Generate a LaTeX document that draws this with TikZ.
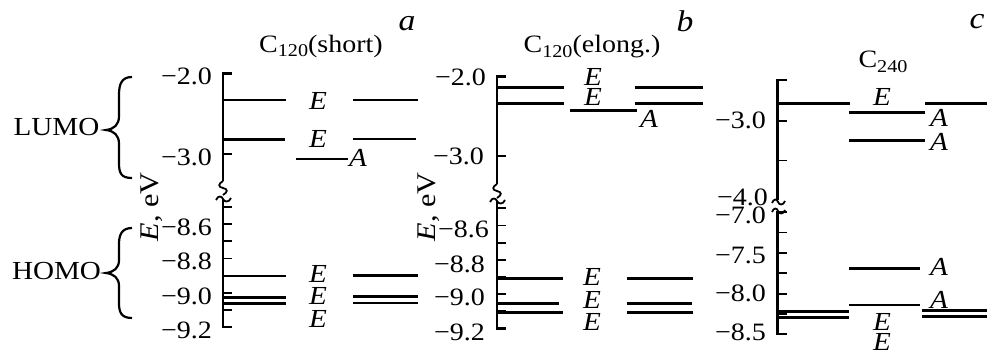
\documentclass[tikz,border=0pt]{standalone}
\usepackage{fontspec}
\setmainfont{Liberation Serif}[FakeStretch=1.12]
\begin{document}
\begin{tikzpicture}[x=1pt,y=-1pt,line join=miter,
  lvl/.style={line width=2.8pt},
  axisline/.style={line width=2.8pt},
  tickline/.style={line width=1.8pt},
  wave/.style={line width=1.8pt},
  bracestyle/.style={line width=2.2pt},
  txt/.style={inner sep=0pt, font=\fontsize{25}{25}\selectfont},
  bigtxt/.style={inner sep=0pt, font=\fontsize{26}{26}\selectfont},
  sym/.style={inner sep=0pt, text height=17pt, text depth=0pt, font=\fontsize{26}{26}\selectfont\itshape},
  panel/.style={inner sep=0pt, font=\fontsize{30}{30}\selectfont\itshape},
  ticklab/.style={inner sep=0pt, anchor=east, text height=16pt, text depth=0pt, font=\fontsize{25}{25}\selectfont},
  ylab/.style={inner sep=0pt, rotate=90, font=\fontsize{27}{27}\selectfont},
]
\useasboundingbox (0,0) rectangle (987,356);

% ---------- left labels ----------
\node[bigtxt] (lumo) at (56.5,127) {LUMO};
\node[bigtxt] (homo) at (56.5,271) {HOMO};
\draw[bracestyle] (132,77) .. controls (121,77) and (119,85) .. (119,95) -- (119,116)
  .. controls (119,125) and (114,129) .. (106,130) .. controls (114,131) and (119,135) .. (119,144)
  -- (119,163) .. controls (119,173) and (121,178) .. (132,178);
\draw[bracestyle] (132,228) .. controls (121,228) and (119,236) .. (119,244) -- (119,260)
  .. controls (119,268) and (114,272) .. (106,273) .. controls (114,274) and (119,278) .. (119,286)
  -- (119,303) .. controls (119,312) and (121,318) .. (132,318);

% ---------- panel a ----------
\node[txt] (ta) at (321,46) {C\raisebox{-0.4ex}{\fontsize{18}{18}\selectfont 120}(short)};
\node[panel] (pa) at (407,24) {a};
\node[ylab] (ya) at (152,207) {\textit{E}, eV};
\draw[axisline] (232,73.3) -- (223,73.3) -- (223,181);
\draw[tickline] (223,154.3) -- (232,154.3);
\draw[wave] (223,181) .. controls (218,184) and (218,187) .. (223,188) .. controls (228,189) and (228,192) .. (223,195);
\draw[wave] (216,200) .. controls (218,195) and (222,196) .. (223,199) .. controls (224,202) and (229,203) .. (231,198);
\draw[axisline] (223,199) -- (223,327) -- (232,327);
\foreach \yy in {207,224.1,241.3,258.4,275.6,292.7,309.9}
  \draw[tickline] (223,\yy) -- (232,\yy);
\node[ticklab] (a1) at (212,76) {−2.0};
\node[ticklab] (a2) at (212,157) {−3.0};
\node[ticklab] (a3) at (212,227) {−8.6};
\node[ticklab] (a4) at (212,261) {−8.8};
\node[ticklab] (a5) at (212,296) {−9.0};
\node[ticklab] (a6) at (212,330) {−9.2};
\draw[lvl] (223,100) -- (286,100);   \draw[lvl] (353,100) -- (418,100);
\draw[lvl] (223,139.3) -- (285,139.3); \draw[lvl] (353,139) -- (416,139);
\draw[lvl] (296,159) -- (348,159);
\draw[lvl] (223,276) -- (286,276);   \draw[lvl] (353,275.5) -- (418,275.5);
\draw[lvl] (223,297.3) -- (286,297.3); \draw[lvl] (353,296.7) -- (418,296.7);
\draw[lvl] (223,303.6) -- (286,303.6); \draw[lvl] (353,303) -- (418,303);
\node[sym] (ea1) at (318,101) {E};
\node[sym] (ea2) at (318,139) {E};
\node[sym] (aa1) at (358,157.5) {A};
\node[sym] (ea3) at (318,273.5) {E};
\node[sym] (ea4) at (318,296) {E};
\node[sym] (ea5) at (318,318.5) {E};

% ---------- panel b ----------
\node[txt] (tb) at (592,47) {C\raisebox{-0.4ex}{\fontsize{18}{18}\selectfont 120}(elong.)};
\node[panel] (pb) at (685,21) {b};
\node[ylab] (yb) at (429,207) {\textit{E}, eV};
\draw[axisline] (506,76.7) -- (497,76.7) -- (497,184);
\draw[tickline] (497,156) -- (506,156);
\draw[wave] (497,184) .. controls (492,187) and (492,190) .. (497,191) .. controls (502,192) and (502,195) .. (497,198);
\draw[wave] (490,202) .. controls (492,197) and (496,198) .. (497,201) .. controls (498,204) and (503,205) .. (505,200);
\draw[axisline] (497,201) -- (497,328.3) -- (506,328.3);
\foreach \yy in {208.3,225.4,242.6,259.7,276.9,294,311.2}
  \draw[tickline] (497,\yy) -- (506,\yy);
\node[ticklab] (b1) at (486,77) {−2.0};
\node[ticklab] (b2) at (484,156) {−3.0};
\node[ticklab] (b3) at (489,229) {−8.6};
\node[ticklab] (b4) at (485,264) {−8.8};
\node[ticklab] (b5) at (485,297) {−9.0};
\node[ticklab] (b6) at (485,332) {−9.2};
\draw[lvl] (497,87.3) -- (564,87.3);   \draw[lvl] (635,87.3) -- (703,87.3);
\draw[lvl] (497,103.3) -- (564,103.3); \draw[lvl] (635,103.3) -- (703,103.3);
\draw[lvl] (570,110.7) -- (637,110.7);
\draw[lvl] (497,278.3) -- (563,278.3); \draw[lvl] (627,278.3) -- (693,278.3);
\draw[lvl] (497,303.3) -- (559,303.3); \draw[lvl] (627,303.3) -- (692,303.3);
\draw[lvl] (497,312.5) -- (563,312.5); \draw[lvl] (627,312.5) -- (693,312.5);
\node[sym] (eb1) at (593,77) {E};
\node[sym] (eb2) at (593,97) {E};
\node[sym] (ab1) at (649,118.5) {A};
\node[sym] (eb3) at (592,277) {E};
\node[sym] (eb4) at (592,300) {E};
\node[sym] (eb5) at (592,321.5) {E};

% ---------- panel c ----------
\node[txt] (tc) at (883,62) {C\raisebox{-0.4ex}{\fontsize{18}{18}\selectfont 240}};
\node[panel] (pc) at (977,22) {c};
\draw[axisline] (786.5,80) -- (777.5,80) -- (777.5,200);
\draw[tickline] (777.5,120.7) -- (786.5,120.7);
\draw[tickline] (777.5,160.5) -- (786.5,160.5);
\draw[wave] (772,203) .. controls (774,198) and (777,199) .. (778,202) .. controls (779,205) and (783,206) .. (785,201);
\draw[wave] (772,212) .. controls (774,207) and (777,208) .. (778,211) .. controls (779,214) and (783,215) .. (785,210);
\draw[axisline] (786.5,212) -- (777.5,212) -- (777.5,334) -- (786.5,334);
\foreach \yy in {232.4,252.8,273.2,293.6,314}
  \draw[tickline] (777.5,\yy) -- (786.5,\yy);
\node[ticklab] (c1) at (766,120) {−3.0};
\node[ticklab] (c2) at (768,197) {−4.0};
\node[ticklab] (c3) at (766,215) {−7.0};
\node[ticklab] (c4) at (766,255) {−7.5};
\node[ticklab] (c5) at (766,293) {−8.0};
\node[ticklab] (c6) at (766,332) {−8.5};
\draw[lvl] (777.5,103.3) -- (850,103.3); \draw[lvl] (925,103.3) -- (987,103.3);
\draw[lvl] (849,112.7) -- (925,112.7);
\draw[lvl] (849,140.7) -- (925,140.7);
\draw[lvl] (849,268.3) -- (920,268.3);
\draw[lvl] (849,305) -- (920,305);
\draw[lvl] (777.5,311.7) -- (849,311.7); \draw[lvl] (922,310.7) -- (987,310.7);
\draw[lvl] (777.5,317.3) -- (849,317.3); \draw[lvl] (922,316.7) -- (987,316.7);
\node[sym] (ec1) at (882,97) {E};
\node[sym] (ac1) at (939,117.5) {A};
\node[sym] (ac2) at (939,141.5) {A};
\node[sym] (ac3) at (939,266.5) {A};
\node[sym] (ac4) at (939,300) {A};
\node[sym] (ec2) at (882,322) {E};
\node[sym] (ec3) at (882,342) {E};
\end{tikzpicture}
\end{document}
